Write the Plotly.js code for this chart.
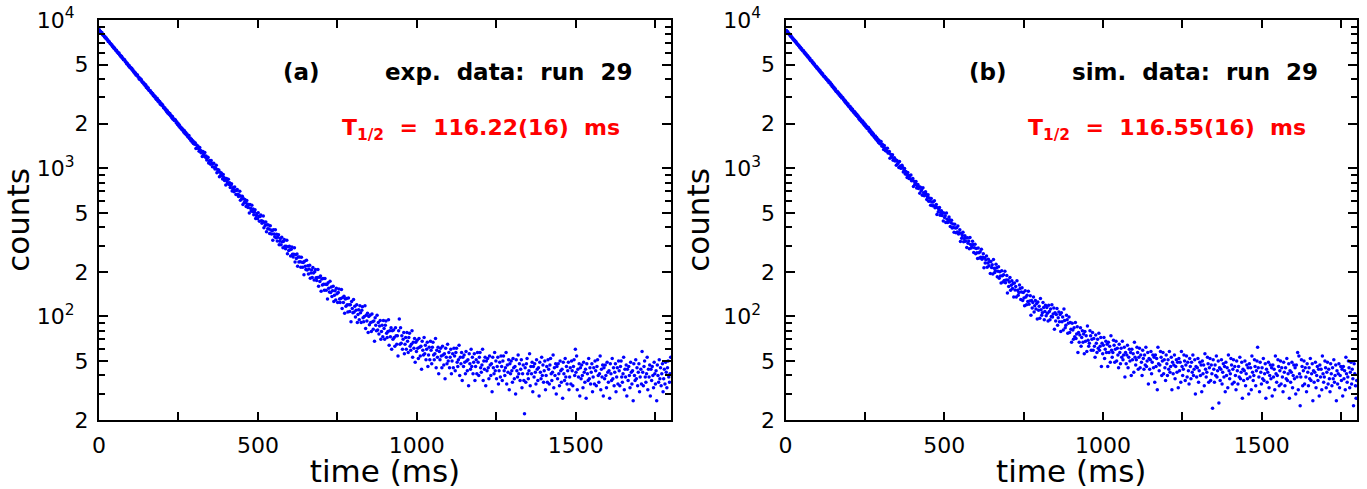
<!DOCTYPE html>
<html>
<head>
<meta charset="utf-8">
<script src="https://cdn.plot.ly/plotly-3.0.1.min.js"></script>
<style>html,body{margin:0;padding:0;background:#fff;}#chart{width:1367px;height:489px;}</style>
</head>
<body>
<div id="chart"></div>
<script>
// time bins: 2 ms wide, first bin centred at 1 ms
const BIN_WIDTH_MS = 2;
const FIRST_BIN_MS = 1;

// panel (a): experimental data, run 29 (counts per 2 ms bin)
const expCounts = [
8610,8402,8355,8190,8230,8011,7905,7884,7702,7698,
7540,7561,7380,7352,7170,7201,7088,6932,6921,6770,
6790,6612,6601,6455,6480,6322,6230,6251,6080,6069,
5950,5980,5810,5790,5650,5701,5540,5530,5400,5420,
5380,5220,5205,5071,5110,4990,4902,4935,4790,4800,
4700,4730,4580,4590,4460,4470,4350,4390,4240,4270,
4250,4120,4110,3990,4040,3930,3960,3840,3790,3800,
3700,3720,3610,3650,3510,3540,3430,3480,3360,3330,
3350,3240,3260,3170,3190,3080,3110,3020,3050,2940,
2910,2960,2840,2870,2790,2820,2700,2740,2660,2690,
2650,2570,2540,2560,2470,2490,2400,2440,2350,2380,
2300,2340,2250,2270,2190,2230,2140,2160,2100,2130,
2110,2030,2050,1970,2000,1930,1960,1880,1900,1840,
1860,1800,1820,1750,1790,1710,1740,1680,1700,1640,
1620,1660,1580,1600,1540,1570,1500,1530,1470,1500,
1449,1480,1360,1432,1376,1411,1358,1302,1378,1323,
1273,1300,1198,1296,1242,1207,1274,1186,1211,1138,
1166,1186,1084,1110,1127,1064,1128,1080,1021,1071,
1080,1015,988,1001,1049,933,981,945,974,876,
939,896,927,887,845,908,866,827,853,770,
853,813,787,843,775,797,740,766,785,701,
726,742,694,747,710,665,707,719,666,645,
659,699,607,647,620,646,569,622,588,616,
585,552,605,573,543,565,499,569,537,517,
563,510,530,486,507,524,457,479,495,456,
501,472,438,473,483,442,426,438,475,397,
432,411,433,372,416,390,413,389,363,409,
383,360,379,327,384,360,345,384,340,358,
323,342,356,304,322,335,305,342,319,291,
321,330,298,286,297,326,265,295,278,297,
282,256,284,294,263,252,263,291,233,261,
246,264,218,252,233,252,234,215,251,232,
215,231,191,236,218,207,239,206,220,193,
209,221,181,196,206,183,214,196,176,200,
207,182,175,183,207,160,184,172,187,148,
179,163,180,165,150,180,165,150,164,131,
169,155,146,173,145,158,136,149,160,126,
139,149,129,155,142,124,145,153,131,124,
132,152,113,134,124,137,105,131,117,132,
120,107,133,120,108,120,92,126,113,106,
130,107,117,99,110,120,91,103,111,95,
118,106,91,110,116,98,92,100,118,83,
102,93,105,78,100,88,102,91,79,104,
92,82,93,68,98,87,80,102,81,91,
76,86,94,70,79,87,73,94,83,70,
87,93,77,72,79,95,64,80,73,84,
60,80,70,81,72,63,84,74,65,74,
54,80,96,65,84,66,74,60,70,78,
56,65,72,60,78,68,57,72,77,63,
59,65,80,53,67,61,71,49,67,58,
69,61,52,71,62,54,63,44,68,59,
55,72,56,64,51,60,67,46,55,62,
51,68,59,48,62,67,55,51,56,71,
45,59,53,62,41,58,51,61,54,45,
63,55,47,56,38,61,53,48,65,50,
57,45,53,60,41,50,56,45,61,54,
43,57,61,49,46,51,64,40,53,48,
57,37,53,46,55,49,41,58,50,43,
51,34,56,48,44,60,46,53,41,49,
56,37,46,51,41,57,49,40,53,57,
45,42,47,60,37,50,44,53,34,50,
43,52,45,38,54,47,40,48,31,53,
45,41,57,43,50,38,46,53,35,43,
49,39,54,46,37,50,54,43,40,45,
57,35,47,42,51,32,48,41,50,43,
36,52,45,38,46,30,51,43,39,55,
41,48,37,44,51,33,41,47,37,22,
45,36,48,52,41,38,43,56,34,46,
41,49,31,46,39,48,42,35,51,44,
37,45,29,49,42,38,53,40,47,36,
43,50,32,40,46,36,51,44,35,47,
52,41,37,42,55,33,45,40,48,30,
46,38,48,41,34,50,43,36,44,28,
49,41,37,52,39,46,35,43,49,32,
39,45,35,50,43,34,46,51,40,60,
42,54,32,44,39,48,29,45,38,47,
40,33,49,42,36,44,28,48,41,37,
52,38,45,35,42,48,31,39,45,35,
50,43,34,46,51,40,36,41,54,32,
44,39,47,29,45,38,47,40,33,49,
42,36,43,28,48,41,37,52,38,45,
34,42,48,31,39,45,35,50,43,34,
46,50,39,36,41,53,32,44,39,47,
29,44,37,46,40,33,49,42,35,43,
27,48,40,37,51,38,45,34,42,48,
31,39,44,35,58,42,34,46,50,39,
36,41,53,32,44,39,47,29,44,37,
46,40,33,49,41,35,43,27,47,40,
36,51,38,45,34,41,48,31,38,44,
35,49,42,33,45,50,39,36,41,53
];

// panel (b): simulated data, run 29 (counts per 2 ms bin)
const simCounts = [
8480,8510,8290,8320,8090,8120,7990,7810,7850,7640,
7630,7440,7450,7260,7290,7110,7120,6990,6850,6860,
6700,6710,6530,6560,6380,6400,6250,6170,6190,6010,
6040,5880,5890,5730,5760,5600,5620,5460,5490,5340,
5280,5300,5150,5170,5020,5050,4910,4850,4880,4730,
4770,4630,4650,4510,4540,4410,4430,4300,4330,4200,
4160,4180,4060,4080,3960,3990,3870,3900,3770,3810,
3770,3650,3680,3560,3590,3480,3500,3400,3420,3310,
3280,3300,3200,3230,3120,3150,3050,3080,2980,3010,
2980,2880,2900,2810,2840,2740,2770,2680,2710,2620,
2590,2620,2520,2550,2460,2500,2410,2380,2410,2320,
2360,2270,2300,2220,2250,2160,2190,2110,2140,2070,
2040,2080,1990,2030,1940,1980,1900,1930,1850,1890,
1880,1790,1830,1750,1780,1700,1740,1670,1700,1630,
1610,1650,1570,1610,1530,1570,1490,1540,1460,1500,
1512,1410,1449,1399,1338,1422,1369,1309,1357,1301,
1361,1265,1271,1296,1168,1242,1186,1207,1232,1131,
1156,1176,1117,1140,1048,1127,1072,1087,1011,1111,
1036,999,1004,1045,1012,942,974,997,915,951,
912,867,935,896,851,891,848,901,823,832,
853,754,815,773,792,813,734,757,776,729,
750,678,744,702,715,657,739,682,652,659,
694,669,614,642,662,598,629,600,562,624,
592,557,591,558,603,541,549,569,487,541,
507,524,543,481,500,517,480,500,441,499,
465,477,431,499,453,431,437,468,449,404,
428,445,395,420,398,370,419,395,367,397,
371,407,360,367,384,320,364,337,352,370,
319,336,350,322,338,292,339,312,323,286,
341,306,289,295,321,306,270,291,307,265,
287,269,246,289,269,248,273,251,284,243,
251,265,213,249,229,241,256,215,229,243,
220,234,195,235,214,223,193,242,211,198,
203,225,213,185,202,216,181,200,187,168,
203,188,171,191,175,202,169,176,189,144,
176,159,171,183,150,162,174,154,167,135,
168,151,159,135,174,150,139,145,163,154,
130,146,156,128,145,133,118,149,135,120,
139,126,148,121,127,138,102,128,114,124,
135,107,118,128,112,122,96,125,110,117,
97,132,111,102,106,124,115,95,108,119,
101,115,105,93,119,108,95,112,100,120,
99,104,114,82,106,93,103,113,87,98,
107,92,103,79,106,92,99,81,112,94,
84,87,102,95,77,90,99,78,91,82,
67,90,81,70,84,73,91,71,76,85,
57,78,67,75,84,63,72,80,67,76,
56,79,68,74,58,86,69,63,66,80,
74,59,70,78,59,71,63,53,75,66,
57,70,61,77,59,63,72,46,66,56,
64,72,52,60,68,57,65,46,67,57,
63,49,74,59,53,57,69,64,49,60,
68,50,61,55,45,65,57,48,61,53,
68,51,55,62,39,57,48,55,64,45,
53,60,50,57,40,60,51,56,42,67,
53,47,51,62,57,44,53,61,45,55,
49,40,59,52,44,55,47,62,46,50,
57,35,52,44,51,58,41,49,55,45,
53,36,55,46,52,32,62,48,43,47,
58,53,40,50,57,41,51,45,37,55,
48,40,51,44,58,42,46,53,32,49,
41,47,55,38,46,51,42,49,33,52,
43,49,36,58,46,40,44,55,50,37,
47,54,39,49,43,35,52,46,38,49,
42,55,40,44,51,30,46,39,45,52,
36,43,49,40,47,31,50,41,47,34,
56,44,39,42,53,48,36,45,52,37,
47,41,24,51,44,36,47,40,54,39,
43,50,26,45,37,44,51,35,42,48,
39,46,31,49,40,45,33,55,43,38,
41,52,47,35,44,51,36,46,40,32,
50,43,35,46,39,53,38,42,49,28,
44,37,43,50,34,41,47,38,45,30,
48,39,45,32,54,42,37,40,51,46,
34,43,50,62,45,39,31,49,42,35,
45,38,52,37,41,48,28,44,36,42,
49,33,40,47,38,45,29,47,39,44,
32,54,41,36,40,51,46,34,43,50,
35,45,39,31,49,42,34,45,38,52,
37,41,48,28,43,36,42,49,33,40,
47,38,45,30,47,39,57,32,54,41,
25,39,51,46,34,43,50,35,45,39,
31,48,42,34,45,38,52,37,41,48,
27,43,36,42,49,33,40,46,37,44,
29,47,39,44,32,54,41,36,39,50,
45,33,42,49,35,44,38,31,48,41,
34,45,38,51,36,40,47,27,43,35,
41,48,33,40,46,37,44,29,46,38,
43,32,53,41,36,39,50,45,33,42,
49,35,44,38,25,48,41,34,28,37
];

// axis ticks
const xTickVals = [0, 500, 1000, 1500];
const xTickText = ['0', '500', '1000', '1500'];
const xMinorVals = [250, 750, 1250, 1750];
const yTickVals = [20, 50, 100, 200, 500, 1000, 2000, 5000, 10000];
const yTickText = ['2', '5', '10<sup>2</sup>\u00a0\u00a0', '2', '5', '10<sup>3</sup>\u00a0\u00a0', '2', '5', '10<sup>4</sup>\u00a0\u00a0'];
const yMinorVals = [30, 40, 60, 70, 80, 90, 300, 400, 600, 700, 800, 900, 3000, 4000, 6000, 7000, 8000, 9000];

// texts
const panelLabels = ['(a)', '(b)'];
const dataLabels = ['exp.\u00a0 data:\u00a0 run\u00a0 29', 'sim.\u00a0 data:\u00a0 run\u00a0 29'];
const halfLives = ['116.22(16)', '116.55(16)'];

const FONT = 'DejaVu Sans, Liberation Sans, sans-serif';

function trace(counts, xa, ya) {
  return {
    type: 'scatter', mode: 'markers',
    x0: FIRST_BIN_MS, dx: BIN_WIDTH_MS, y: counts,
    xaxis: xa, yaxis: ya,
    marker: {color: '#0000ff', size: 3.5, line: {width: 0}},
    hoverinfo: 'skip'
  };
}

function xAxis(domain, anchor) {
  return {
    domain: domain, anchor: anchor, range: [0, 1800],
    tickmode: 'array', tickvals: xTickVals, ticktext: xTickText,
    ticks: 'inside', ticklen: 8, tickwidth: 2, tickcolor: 'black',
    minor: {tickmode: 'array', tickvals: xMinorVals, ticks: 'inside', ticklen: 8, tickwidth: 2, tickcolor: 'black'},
    showline: true, linewidth: 2, linecolor: 'black', mirror: 'ticks',
    showgrid: false, zeroline: false,
    tickfont: {family: FONT, size: 22, color: 'black'},
    ticklabelstandoff: 5,
    title: {text: 'time (ms)', font: {family: FONT, size: 31, color: 'black'}, standoff: 11}
  };
}

function yAxis(domain, anchor) {
  return {
    domain: domain, anchor: anchor, type: 'log', range: [Math.log10(20), 4],
    tickmode: 'array', tickvals: yTickVals, ticktext: yTickText,
    ticks: 'inside', ticklen: 9, tickwidth: 2, tickcolor: 'black',
    minor: {tickmode: 'array', tickvals: yMinorVals, ticks: 'inside', ticklen: 6, tickwidth: 2, tickcolor: 'black'},
    showline: true, linewidth: 2, linecolor: 'black', mirror: 'ticks',
    showgrid: false, zeroline: false,
    tickfont: {family: FONT, size: 22, color: 'black'},
    ticklabelstandoff: 4,
    title: {text: 'counts', font: {family: FONT, size: 31, color: 'black'}, standoff: 4}
  };
}

function notes(i, xd, yd) {
  const boldFont = {family: FONT, size: 23, color: 'black', weight: 'bold'};
  const common = {xref: xd, yref: yd, showarrow: false, xanchor: 'center', yanchor: 'middle'};
  return [
    Object.assign({}, common, {x: 0.354, y: 0.870, text: panelLabels[i], font: boldFont}),
    Object.assign({}, common, {x: 0.7165, y: 0.870, text: dataLabels[i], font: boldFont}),
    Object.assign({}, common, {x: 0.668, y: 0.727,
      text: 'T<sub>1/2</sub>\u00a0 =\u00a0 ' + halfLives[i] + '\u00a0 ms',
      font: {family: FONT, size: 22, color: '#ff0000', weight: 'bold'}})
  ];
}

const L = 99, R = 10, T = 20, B = 69;
const plotW = 1367 - L - R;
const dA = [0, (671 - L) / plotW];
const dB = [(785.5 - L) / plotW, 1];

const layout = {
  width: 1367, height: 489,
  margin: {l: L, r: R, t: T, b: B},
  paper_bgcolor: 'white', plot_bgcolor: 'white',
  showlegend: false,
  font: {family: FONT, color: 'black'},
  xaxis: xAxis(dA, 'y'),
  yaxis: yAxis([0, 1], 'x'),
  xaxis2: xAxis(dB, 'y2'),
  yaxis2: yAxis([0, 1], 'x2'),
  annotations: notes(0, 'x domain', 'y domain').concat(notes(1, 'x2 domain', 'y2 domain'))
};

Plotly.newPlot('chart', [trace(expCounts, 'x', 'y'), trace(simCounts, 'x2', 'y2')], layout, {staticPlot: true, displayModeBar: false});
</script>
</body>
</html>
